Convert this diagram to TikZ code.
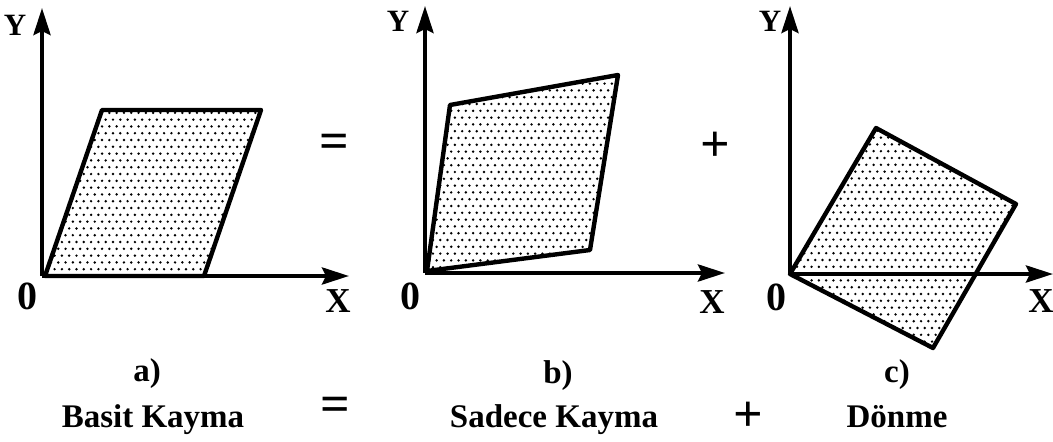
\documentclass[tikz,border=0pt]{standalone}
\usepackage{fontspec}
\setmainfont{Liberation Serif}
\usetikzlibrary{arrows.meta}
\newcommand\dotgrid[4]{%
  \foreach \r in {0,...,#4}{%
    \foreach \c in {0,...,#3}{%
      \fill ({#1+\c*7.3+mod(\r,2)*3.65},{#2+\r*6.8}) circle (1.35);}}}
\begin{document}
\begin{tikzpicture}[x=1pt,y=-1pt,
  axis/.style={line width=4.2pt,-{Stealth[length=27pt,width=17pt,inset=4pt]}},
  plate/.style={line width=4.4pt,line join=round},
  sub/.style={font=\bfseries\fontsize{33}{33}\selectfont,inner sep=0pt,anchor=base},
  sym/.style={font=\bfseries\fontsize{52}{52}\selectfont,inner sep=0pt},
  ylab/.style={font=\bfseries\fontsize{31}{31}\selectfont,inner sep=0pt},
  xlab/.style={font=\bfseries\fontsize{35}{35}\selectfont,inner sep=0pt},
  olab/.style={font=\bfseries\fontsize{40}{40}\selectfont,inner sep=0pt}]
\useasboundingbox (0,0) rectangle (1053,442);
% ---------- panel a ----------
\coordinate (oa) at (42,276);
\coordinate (ya) at (42,8);
\coordinate (xa) at (349,276);
\coordinate (a1) at (45,276);
\coordinate (a2) at (102,110);
\coordinate (a3) at (261,110);
\coordinate (a4) at (204,276);
\begin{scope}
  \clip (a1) -- (a2) -- (a3) -- (a4) -- cycle;
  \dotgrid{40}{106}{31}{26}
\end{scope}
\draw[plate] (a1) -- (a2) -- (a3) -- (a4) -- cycle;
\draw[axis] (oa) -- (ya);
\draw[axis] (oa) -- (xa);
\node[ylab] (Ya) at (15,25) {Y};
\node[olab] (Oa) at (27,296) {0};
\node[xlab] (Xa) at (338,301) {X};
% ---------- panel b ----------
\coordinate (ob) at (425,273);
\coordinate (yb) at (425,6);
\coordinate (xb) at (725,273);
\coordinate (b1) at (427,271);
\coordinate (b2) at (450,105);
\coordinate (b3) at (618,75);
\coordinate (b4) at (590,250);
\begin{scope}
  \clip (b1) -- (b2) -- (b3) -- (b4) -- cycle;
  \dotgrid{422}{70}{28}{31}
\end{scope}
\draw[plate] (b1) -- (b2) -- (b3) -- (b4) -- cycle;
\draw[axis] (ob) -- (yb);
\draw[axis] (ob) -- (xb);
\node[ylab] (Yb) at (398,21) {Y};
\node[olab] (Ob) at (410,296) {0};
\node[xlab] (Xb) at (712,302) {X};
% ---------- panel c ----------
\coordinate (oc) at (790,274);
\coordinate (yc) at (790,6);
\coordinate (xc) at (1053,274);
\coordinate (c1) at (790,274);
\coordinate (c2) at (876,128);
\coordinate (c3) at (1016,204);
\coordinate (c4) at (933,348);
\begin{scope}
  \clip (c1) -- (c2) -- (c3) -- (c4) -- cycle;
  \dotgrid{786}{124}{32}{34}
\end{scope}
\draw[plate] (c1) -- (c2) -- (c3) -- (c4) -- cycle;
\draw[axis] (oc) -- (yc);
\draw[axis] (oc) -- (xc);
\node[ylab] (Yc) at (770,21) {Y};
\node[olab] (Oc) at (776,297) {0};
\node[xlab] (Xc) at (1041,301) {X};
% ---------- operators between panels ----------
\node[sym] (eqtop) at (334,146) {=};
\node[sym] (plustop) at (715,147) {+};
% ---------- captions ----------
\node[sub] (la) at (147,381) {a)};
\node[sub] (lb) at (558,383) {b)};
\node[sub] (lc) at (897,382) {c)};
\node[sub] (ta) at (153,427) {Basit Kayma};
\node[sym] (eqbot) at (335,409) {=};
\node[sub] (tb) at (554,427) {Sadece Kayma};
\node[sym] (plusbot) at (748,417) {+};
\node[sub] (tc) at (897,427) {Dönme};
\end{tikzpicture}
\end{document}
